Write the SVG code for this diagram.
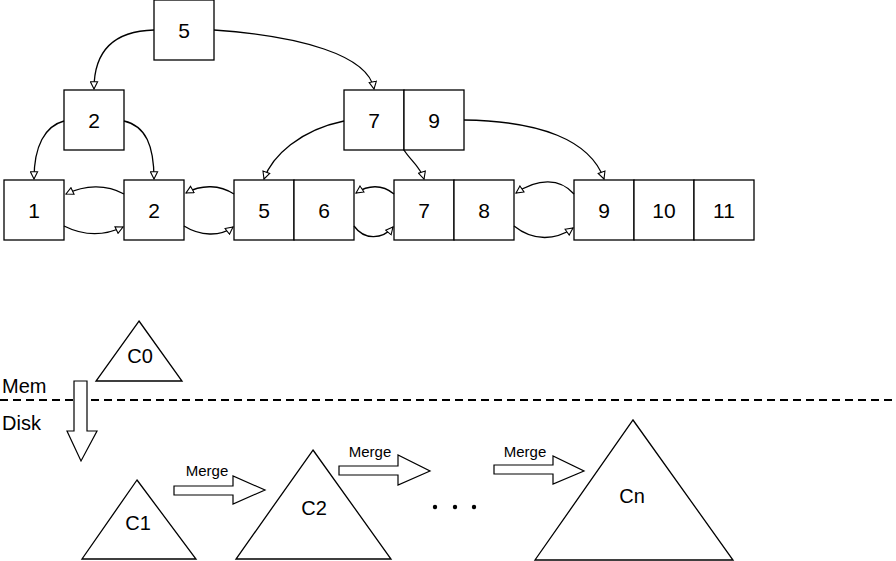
<svg xmlns="http://www.w3.org/2000/svg" width="896" height="561" viewBox="0 0 896 561">
<defs>
<marker id="ah" viewBox="0 0 10 10" refX="9" refY="5" markerWidth="9" markerHeight="9" orient="auto" markerUnits="userSpaceOnUse">
<path d="M1,1 L9,5 L1,9 Z" fill="#fff" stroke="#000" stroke-width="1.2"/>
</marker>
</defs>
<style>
.box{fill:#fff;stroke:#000;stroke-width:1.3}
.num{font-family:"Liberation Sans",Arial,sans-serif;font-size:21px;text-anchor:middle;fill:#000}
.lbl{font-family:"Liberation Sans",Arial,sans-serif;font-size:20px;text-anchor:middle;fill:#000}
.mg{font-family:"Liberation Sans",Arial,sans-serif;font-size:15px;text-anchor:middle;fill:#000}
.side{font-family:"Liberation Sans",Arial,sans-serif;font-size:20px;fill:#000}
.tri{fill:#fff;stroke:#000;stroke-width:1.3}
.fat{fill:#fff;stroke:#000;stroke-width:1.2}
.con{fill:none;stroke:#000;stroke-width:1.3;marker-end:url(#ah)}
</style>
<rect width="896" height="561" fill="#fff"/>
<g id="root5"><rect class="box" x="154" y="0" width="60" height="60"/><text class="num" x="184" y="38">5</text></g>
<g id="inner2"><rect class="box" x="64" y="90" width="60" height="60"/><text class="num" x="94" y="128">2</text></g>
<g id="inner79"><rect class="box" x="344" y="90" width="60" height="60"/><rect class="box" x="404" y="90" width="60" height="60"/><text class="num" x="374" y="128">7</text><text class="num" x="434" y="128">9</text></g>
<g id="leaf1"><rect class="box" x="4" y="180" width="60" height="60"/><text class="num" x="34" y="218">1</text></g>
<g id="leaf2"><rect class="box" x="124" y="180" width="60" height="60"/><text class="num" x="154" y="218">2</text></g>
<g id="leaf56"><rect class="box" x="234" y="180" width="60" height="60"/><rect class="box" x="294" y="180" width="60" height="60"/><text class="num" x="264" y="218">5</text><text class="num" x="324" y="218">6</text></g>
<g id="leaf78"><rect class="box" x="394" y="180" width="60" height="60"/><rect class="box" x="454" y="180" width="60" height="60"/><text class="num" x="424" y="218">7</text><text class="num" x="484" y="218">8</text></g>
<g id="leaf91011"><rect class="box" x="574" y="180" width="60" height="60"/><rect class="box" x="634" y="180" width="60" height="60"/><rect class="box" x="694" y="180" width="60" height="60"/><text class="num" x="604" y="218">9</text><text class="num" x="664" y="218">10</text><text class="num" x="724" y="218">11</text></g>
<g id="connectors">
<path class="con" d="M154,30 C112,31 94,52 94,89"/>
<path class="con" d="M214,30 C300,36 368,55 374,89"/>
<path class="con" d="M64,121 C45,126 34,146 34,179"/>
<path class="con" d="M124,121 C146,126 154,146 154,179"/>
<path class="con" d="M344,121 C300,130 272,156 264,179"/>
<path class="con" d="M404,150 C410,160 420,166 424,179"/>
<path class="con" d="M464,120 C540,121 590,140 604,179"/>
<path class="con" d="M124,194 C106,184 85,185 66,194"/>
<path class="con" d="M64,226 C84,236 104,236 123,227"/>
<path class="con" d="M234,194 C220,185 202,184 186,193"/>
<path class="con" d="M184,226 C200,236 220,237 233,227"/>
<path class="con" d="M394,194 C382,184 368,185 356,193"/>
<path class="con" d="M354,226 C364,240 382,240 393,227"/>
<path class="con" d="M574,194 C560,178 538,178 516,193"/>
<path class="con" d="M514,226 C534,242 556,240 573,228"/>
</g>
<g id="c0"><polygon class="tri" points="139,321 182,381 96,381"/><text class="lbl" x="140" y="363">C0</text></g>
<g id="divider">
<line x1="0" y1="400" x2="896" y2="400" stroke="#000" stroke-width="2" stroke-dasharray="8,5"/>
<text class="side" x="2" y="393">Mem</text>
<text class="side" x="2" y="430">Disk</text>
</g>
<g id="flush"><polygon class="fat" points="74,381 87,381 87,431 97,431 81,461 67,431 74,431"/></g>
<g id="c1"><polygon class="tri" points="137,480 196,559 82,559"/><text class="lbl" x="138" y="530">C1</text></g>
<g id="merge1"><polygon class="fat" points="174,486 233,486 233,476 265,490 233,504 233,495 174,495"/><text class="mg" x="207" y="476">Merge</text></g>
<g id="c2"><polygon class="tri" points="313,450 391,559 236,559"/><text class="lbl" x="314" y="515">C2</text></g>
<g id="merge2"><polygon class="fat" points="339,466 398,466 398,455 430,471 398,485 398,475 339,475"/><text class="mg" x="370" y="457">Merge</text></g>
<g id="dots"><circle cx="435" cy="507" r="2.2"/><circle cx="455" cy="507" r="2.2"/><circle cx="474" cy="507" r="2.2"/></g>
<g id="merge3"><polygon class="fat" points="494,465 553,465 553,456 584,471 553,484 553,474 494,474"/><text class="mg" x="525" y="457">Merge</text></g>
<g id="cn"><polygon class="tri" points="633,420 733,560 535,560"/><text class="lbl" x="632" y="503">Cn</text></g>
</svg>
